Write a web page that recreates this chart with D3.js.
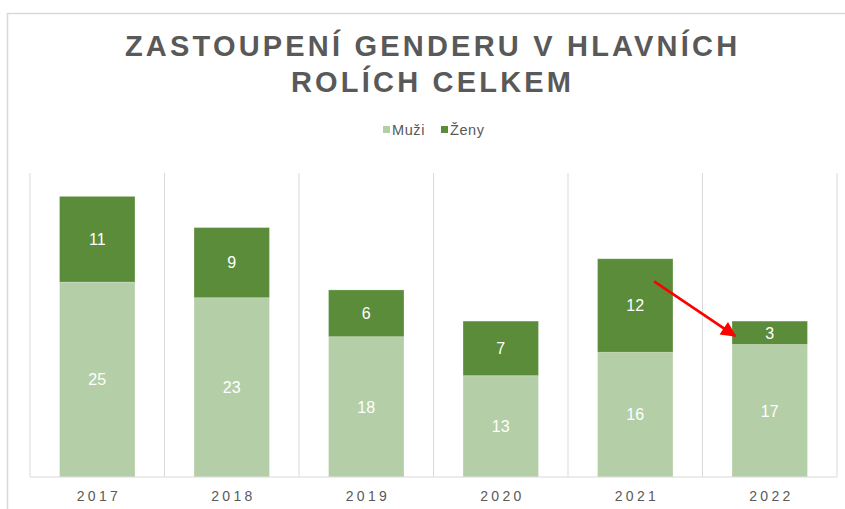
<!DOCTYPE html>
<html>
<head>
<meta charset="utf-8">
<script src="https://cdn.jsdelivr.net/npm/d3@7"></script>
<style>
  body { margin: 0; background: #fff; }
  text { font-family: "Liberation Sans", Arial, sans-serif; }
</style>
</head>
<body>
<div id="chart"></div>
<script>
const years = ["2017", "2018", "2019", "2020", "2021", "2022"];
const muzi = [25, 23, 18, 13, 16, 17];
const zeny = [11, 9, 6, 7, 12, 3];
const seriesNames = ["Muži", "Ženy"];
const seriesColors = ["#b4cea7", "#5b8c3a"];
const titleLines = ["ZASTOUPENÍ GENDERU V HLAVNÍCH", "ROLÍCH CELKEM"];
// annotation arrow: 2021 Ženy segment -> 2022 Ženy segment
const arrowFrom = { year: "2021", pos: 0.75, value: 25.1 };
const arrowTo = { year: "2022", pos: 0.04, value: 18.1 };

const WIDTH = 845, HEIGHT = 509;
const margin = { left: 30, right: 8, top: 173, bottom: 32 };

const svg = d3.select("#chart").append("svg")
    .attr("width", WIDTH)
    .attr("height", HEIGHT);

// chart frame (runs off the right and bottom edge like the reference)
svg.append("rect")
    .attr("x", 7.5).attr("y", 13.5)
    .attr("width", WIDTH + 20).attr("height", HEIGHT + 20)
    .attr("fill", "#fff")
    .attr("stroke", "#d9d9d9")
    .attr("stroke-width", 1.5);

const x = d3.scaleBand()
    .domain(years)
    .range([margin.left, WIDTH - margin.right])
    .paddingInner(0.439)
    .paddingOuter(0.2195);

const y = d3.scaleLinear()
    .domain([0, 39])
    .range([HEIGHT - margin.bottom, margin.top]);

const rows = years.map((yr, i) => ({ year: yr, Muži: muzi[i], Ženy: zeny[i] }));
const stacked = d3.stack().keys(seriesNames)(rows);

// vertical category gridlines
const half = x.step() * x.paddingInner() / 2;
const edges = years.map(d => x(d) - half).concat([x(years[years.length - 1]) + x.bandwidth() + half]);
svg.append("g")
    .selectAll("line")
    .data(edges)
    .join("line")
    .attr("x1", d => d).attr("x2", d => d)
    .attr("y1", y(39)).attr("y2", y(0))
    .attr("stroke", "#d9d9d9")
    .attr("stroke-width", 1);

// bars
const groups = svg.append("g")
    .selectAll("g")
    .data(stacked)
    .join("g")
    .attr("fill", (d, i) => seriesColors[i]);

groups.selectAll("rect")
    .data(d => d)
    .join("rect")
    .attr("x", d => x(d.data.year))
    .attr("width", x.bandwidth())
    .attr("y", d => y(d[1]))
    .attr("height", d => y(d[0]) - y(d[1]))
    .attr("stroke", "#fff")
    .attr("stroke-opacity", 0.25)
    .attr("stroke-width", 1);

// data labels
groups.selectAll("text")
    .data(d => d)
    .join("text")
    .attr("x", d => x(d.data.year) + x.bandwidth() / 2)
    .attr("y", d => (y(d[0]) + y(d[1])) / 2)
    .attr("dy", "0.36em")
    .attr("text-anchor", "middle")
    .attr("fill", "#fff")
    .attr("font-size", 16)
    .text(d => d[1] - d[0]);

// x axis
const xAxis = svg.append("g")
    .attr("transform", `translate(0,${y(0)})`)
    .call(d3.axisBottom(x).tickSize(0).tickPadding(14));
xAxis.select(".domain").remove();
svg.append("line")
    .attr("x1", edges[0]).attr("x2", edges[edges.length - 1])
    .attr("y1", y(0)).attr("y2", y(0))
    .attr("stroke", "#d9d9d9")
    .attr("stroke-width", 1.2);
xAxis.selectAll("text")
    .attr("font-family", "Liberation Sans, Arial, sans-serif")
    .attr("font-size", 14)
    .attr("fill", "#595959")
    .attr("letter-spacing", "3.3px")
    .attr("dx", "1.65px");

// title
const titleCx = 431;
svg.append("g")
    .selectAll("text")
    .data(titleLines)
    .join("text")
    .attr("x", titleCx + 1.6)
    .attr("y", (d, i) => 56 + i * 36)
    .attr("text-anchor", "middle")
    .attr("font-size", 29)
    .attr("font-weight", "bold")
    .attr("letter-spacing", "3.2px")
    .attr("fill", "#595959")
    .text(d => d);

// legend
const legendItems = [
    { name: seriesNames[0], color: seriesColors[0], x: 383 },
    { name: seriesNames[1], color: seriesColors[1], x: 441 }
];
const legend = svg.append("g")
    .selectAll("g")
    .data(legendItems)
    .join("g")
    .attr("transform", d => `translate(${d.x},126)`);
legend.append("rect")
    .attr("width", 7).attr("height", 7)
    .attr("fill", d => d.color);
legend.append("text")
    .attr("x", 9).attr("y", 8.5)
    .attr("font-size", 14.5)
    .attr("letter-spacing", "0.6px")
    .attr("fill", "#595959")
    .text(d => d.name);

// red arrow annotation
svg.append("defs").append("marker")
    .attr("id", "arrowhead")
    .attr("viewBox", "0 0 10 10")
    .attr("refX", 9).attr("refY", 5)
    .attr("markerWidth", 6.6).attr("markerHeight", 5.6)
    .attr("markerUnits", "strokeWidth")
    .attr("orient", "auto")
    .append("path")
    .attr("d", "M0,0 L10,5 L0,10 z")
    .attr("fill", "#ff0000");

svg.append("line")
    .attr("x1", x(arrowFrom.year) + x.bandwidth() * arrowFrom.pos)
    .attr("y1", y(arrowFrom.value))
    .attr("x2", x(arrowTo.year) + x.bandwidth() * arrowTo.pos)
    .attr("y2", y(arrowTo.value))
    .attr("stroke", "#ff0000")
    .attr("stroke-width", 2.7)
    .attr("marker-end", "url(#arrowhead)");
</script>
</body>
</html>
